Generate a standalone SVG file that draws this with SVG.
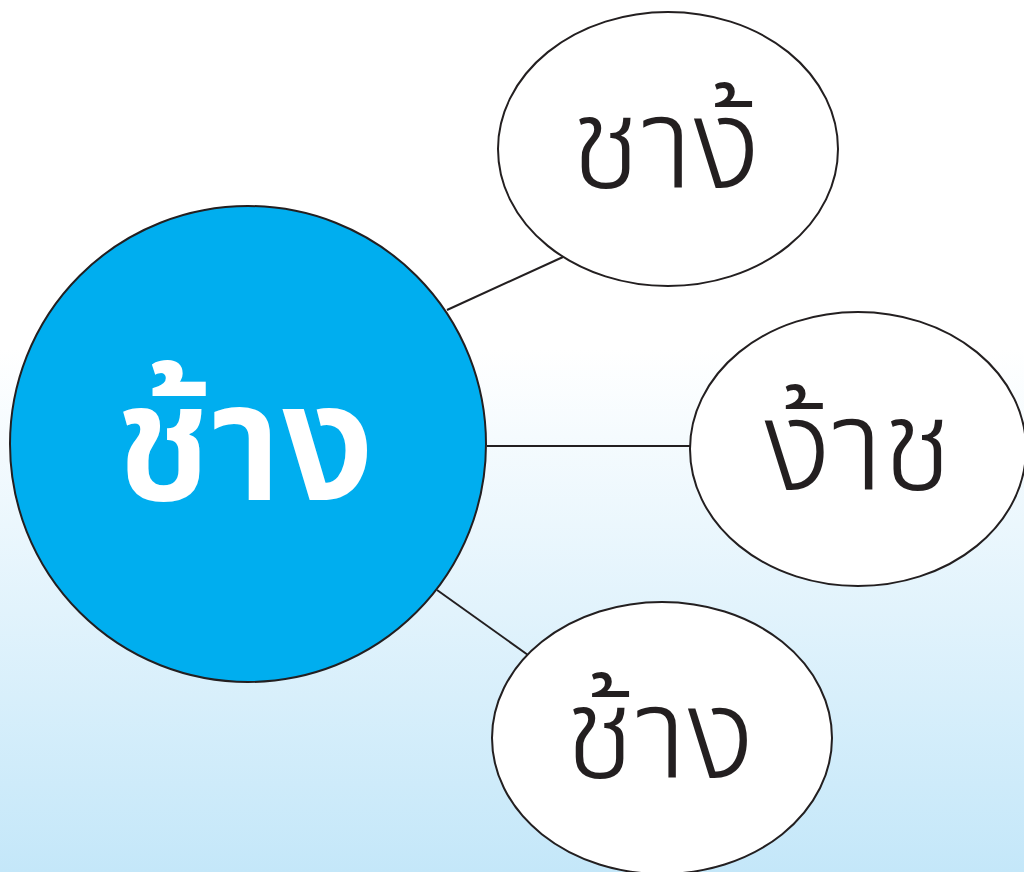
<svg xmlns="http://www.w3.org/2000/svg" width="1024" height="872" viewBox="0 0 1024 872">
<defs>
<linearGradient id="bg" x1="0" y1="0" x2="0" y2="1">
<stop offset="0" stop-color="#ffffff"/>
<stop offset="0.4" stop-color="#ffffff"/>
<stop offset="1" stop-color="#c4e7f9"/>
</linearGradient>
</defs>
<style>
.node{fill:#ffffff;stroke:#231f20;stroke-width:2}
.hub{fill:#00aeef;stroke:#231f20;stroke-width:2}
.edge{stroke:#231f20;stroke-width:2;fill:none}
.lbl{font-family:"Noto Sans Thai","Noto Sans","DejaVu Sans",sans-serif;fill:#231f20;font-size:128px;font-weight:300;text-anchor:middle}
.hublbl{font-family:"Noto Sans Thai","Noto Sans","DejaVu Sans",sans-serif;fill:#ffffff;font-size:166px;font-weight:600;text-anchor:middle}
</style>
<rect x="0" y="0" width="1024" height="872" fill="url(#bg)"/>
<g id="connectors">
<line class="edge" x1="447" y1="310" x2="563" y2="257"/>
<line class="edge" x1="487" y1="446" x2="690" y2="446"/>
<line class="edge" x1="437" y1="590" x2="528" y2="655"/>
</g>
<g id="hub">
<circle class="hub" cx="248" cy="444" r="238"/>
<text class="hublbl" x="245" y="500">ช้าง</text>
</g>
<g id="node-top">
<ellipse class="node" cx="668" cy="149" rx="170" ry="137"/>
<text class="lbl" x="666" y="188">ชาง้</text>
</g>
<g id="node-mid">
<ellipse class="node" cx="858" cy="449" rx="168" ry="137"/>
<text class="lbl" x="858" y="490">ง้าช</text>
</g>
<g id="node-bot">
<ellipse class="node" cx="662" cy="738" rx="170" ry="136"/>
<text class="lbl" x="660" y="778">ช้าง</text>
</g>
</svg>
